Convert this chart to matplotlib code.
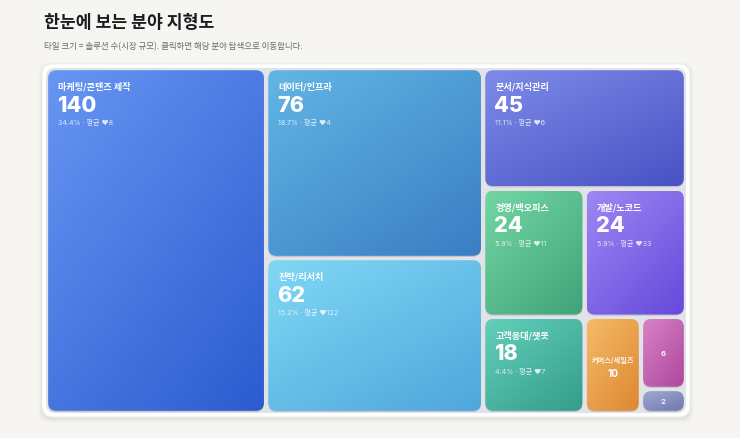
import numpy as np
import matplotlib
matplotlib.use("Agg")
import matplotlib.pyplot as plt
from matplotlib.patches import FancyBboxPatch
from matplotlib.colors import to_rgb

# ---------------- data ----------------
categories = ["마케팅/콘텐츠 제작", "데이터/인프라", "전략/리서치", "문서/지식관리",
              "경영/백오피스", "개발/노코드", "고객응대/챗봇", "커머스/세일즈",
              "기타 A", "기타 B"]
counts = [140, 76, 62, 45, 24, 24, 18, 10, 6, 2]
avg_hearts = [8, 4, 122, 6, 11, 33, 7, None, None, None]
color_top = ["#6796f3", "#62b6e4", "#80d8f5", "#7e8be8", "#72d6a4",
             "#9d88f4", "#63cfb9", "#f4bb68", "#d882c7", "#9ea9d2"]
color_bot = ["#2c5bd0", "#3a7dc4", "#4ea6dc", "#4852c4", "#3fa379",
             "#6548da", "#349d8b", "#df8731", "#ae479c", "#6e7aad"]

title = "한눈에 보는 분야 지형도"
subtitle = "타일 크기 = 솔루션 수(시장 규모). 클릭하면 해당 분야 탐색으로 이동합니다."

KR = ["Noto Sans CJK KR", "DejaVu Sans"]
NUM = ["Inter", "Noto Sans CJK KR", "DejaVu Sans"]


# ---------------- squarified treemap ----------------
def worst(row, side):
    s = sum(row)
    return max(side * side * max(row) / (s * s), s * s / (side * side * min(row)))


def squarify(values, x, y, w, h):
    total = sum(values)
    areas = [v * w * h / total for v in values]
    rects = []

    def layout(ar, x, y, w, h):
        if not ar:
            return
        if len(ar) == 1:
            rects.append((x, y, w, h))
            return
        side = min(w, h)
        row = [ar[0]]
        i = 1
        while i < len(ar) and worst(row + [ar[i]], side) <= worst(row, side):
            row.append(ar[i])
            i += 1
        s = sum(row)
        if w >= h:
            cw = s / h
            yy = y
            for a in row:
                rh = a / cw
                rects.append((x, yy, cw, rh))
                yy += rh
            layout(ar[i:], x + cw, y, w - cw, h)
        else:
            rh = s / w
            xx = x
            for a in row:
                rw = a / rh
                rects.append((xx, y, rw, rh))
                xx += rw
            layout(ar[i:], x, y + rh, w, h - rh)

    layout(areas, x, y, w, h)
    return rects


# ---------------- figure ----------------
W, H = 740, 439
fig = plt.figure(figsize=(W / 100, H / 100), dpi=100)
fig.patch.set_facecolor("#f6f5f2")
ax = fig.add_axes([0, 0, 1, 1])
ax.set_xlim(0, W)
ax.set_ylim(H, 0)
ax.axis("off")

fig.text(44 / W, 1 - 22.5 / H, title, fontsize=12.4, fontweight="bold",
         family=KR, color="#1c1c1e", va="center", ha="left")
fig.text(44 / W, 1 - 47 / H, subtitle, fontsize=6.1, family=KR,
         color="#6b6b70", va="center", ha="left")

# card with soft shadow
cx, cy, cw_, ch_ = 42, 65, 648, 353
for k, a in [(8, 0.015), (5, 0.025), (2, 0.035)]:
    ax.add_patch(FancyBboxPatch((cx - k / 2, cy - k / 2 + 2), cw_ + k, ch_ + k,
                                boxstyle="round,pad=0,rounding_size=12",
                                fc="black", ec="none", alpha=a, zorder=1))
ax.add_patch(FancyBboxPatch((cx, cy), cw_, ch_, boxstyle="round,pad=0,rounding_size=11",
                            fc="white", ec="#ececec", lw=0.6, zorder=2))
ax.add_patch(FancyBboxPatch((46, 69), 640, 345, boxstyle="round,pad=0,rounding_size=9",
                            fc="#e2e3e7", ec="none", zorder=2.5))

rects = squarify(counts, 46, 69, 640, 345)
total = sum(counts)
g = 2.2
for i, (x, y, w, h) in enumerate(rects):
    x0, y0, x1, y1 = x + g, y + g, x + w - g, y + h - g
    tw, th = x1 - x0, y1 - y0
    # shadow
    ax.add_patch(FancyBboxPatch((x0, y0 + 1.2), tw, th,
                                boxstyle="round,pad=0,rounding_size=8",
                                fc="#8a8c99", ec="none", alpha=0.35, zorder=3))
    patch = FancyBboxPatch((x0, y0), tw, th, boxstyle="round,pad=0,rounding_size=8",
                           fc="none", ec="none", zorder=4)
    ax.add_patch(patch)
    n, m = max(int(th), 2), max(int(tw), 2)
    X, Y = np.meshgrid(np.linspace(0, 1, m), np.linspace(0, 1, n))
    t = (X * 0.45 + Y * 0.55)[..., None]
    c0 = np.array(to_rgb(color_top[i]))
    c1 = np.array(to_rgb(color_bot[i]))
    img = c0 * (1 - t) + c1 * t
    im = ax.imshow(img, extent=(x0, x1, y1, y0), origin="upper",
                   interpolation="bilinear", zorder=4)
    im.set_clip_path(patch)

    pct = counts[i] / total * 100
    if tw > 80:
        ax.text(x0 + 10, y0 + 16, categories[i], fontsize=6.6, fontweight="bold",
                family=KR, color="white", va="center", ha="left", zorder=5)
        ax.text(x0 + 9, y0 + 34.5, str(counts[i]), fontsize=15.5, fontweight="heavy",
                family=NUM, color="white", va="center", ha="left", zorder=5)
        ax.text(x0 + 10, y0 + 51.5, f"{pct:.1f}% · 평균 ♥{avg_hearts[i]}", fontsize=5.1,
                family=NUM, color="white", alpha=0.8, va="center", ha="left", zorder=5)
    elif tw > 48:
        ax.text((x0 + x1) / 2, (y0 + y1) / 2 - 5, categories[i], fontsize=5.2,
                fontweight="bold", family=KR, color="white", alpha=0.9,
                va="center", ha="center", zorder=5)
        ax.text((x0 + x1) / 2, (y0 + y1) / 2 + 8, str(counts[i]), fontsize=7.3,
                fontweight="bold", family=NUM, color="white",
                va="center", ha="center", zorder=5)
    else:
        ax.text((x0 + x1) / 2, (y0 + y1) / 2, str(counts[i]), fontsize=5.5,
                fontweight="bold", family=NUM, color="white", alpha=0.9,
                va="center", ha="center", zorder=5)

ax.set_xlim(0, W)
ax.set_ylim(H, 0)
ax.set_aspect("auto")
fig.savefig("out.png", dpi=100, facecolor=fig.get_facecolor())
